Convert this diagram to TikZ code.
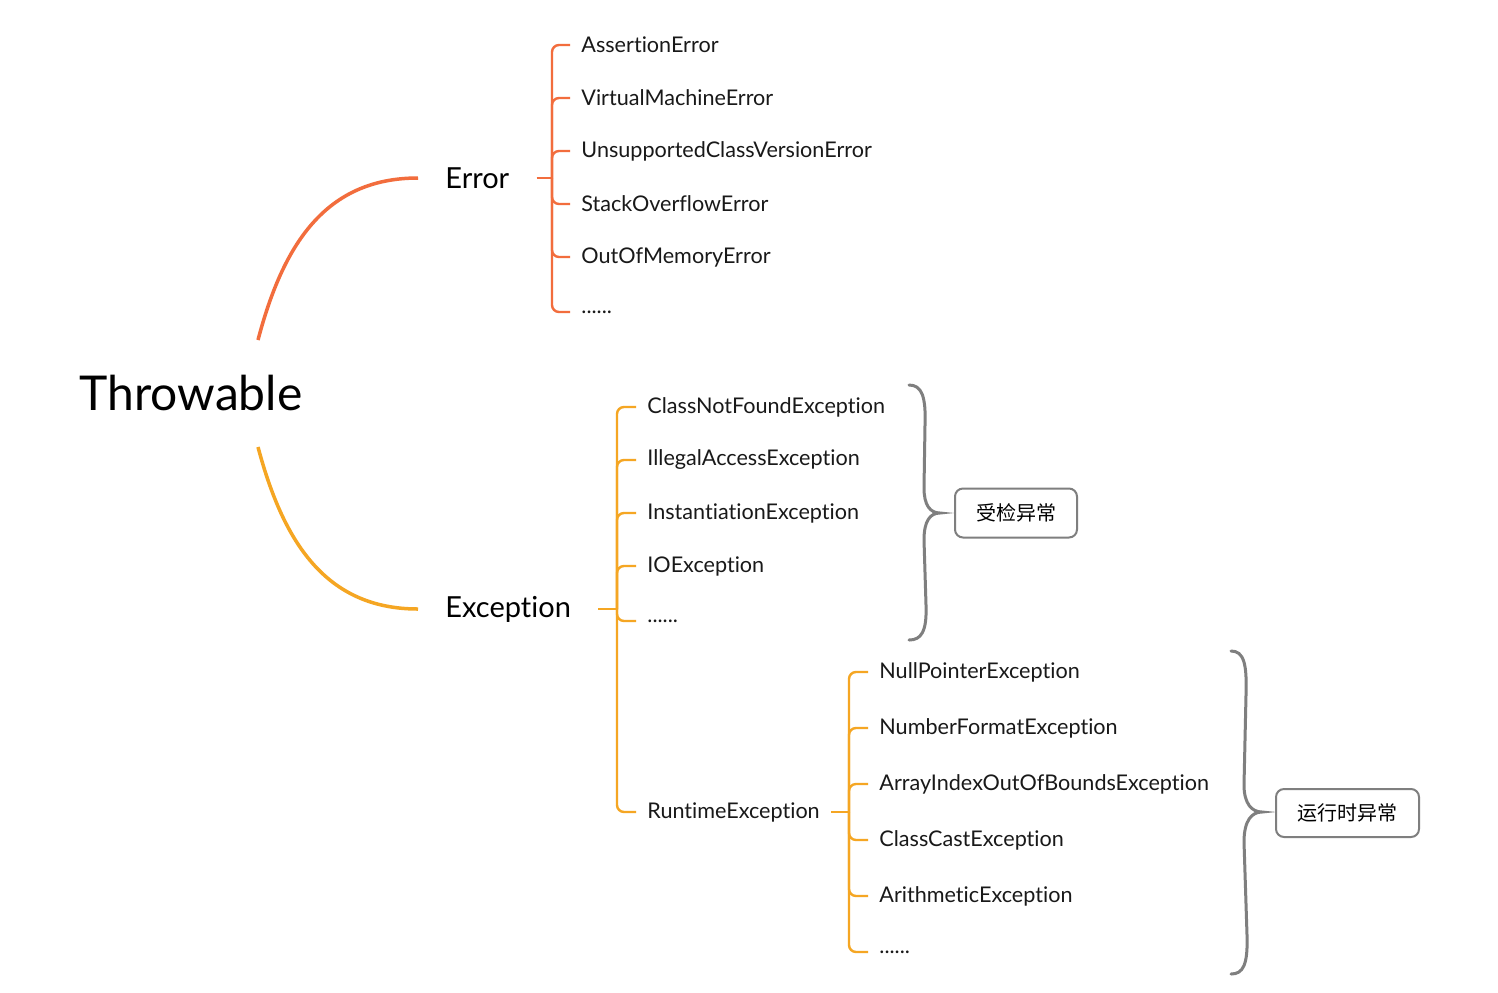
\documentclass[tikz,border=0pt]{standalone}
\usepackage{fontspec}
\setmainfont{Lato}[Ligatures=NoCommon]
\newfontfamily\cjk{Noto Sans CJK SC}
\definecolor{errc}{HTML}{F26D3D}
\definecolor{excc}{HTML}{F5A623}
\definecolor{grayc}{HTML}{7F7F7F}
\tikzset{
  child/.style={anchor=west, inner xsep=5.5pt, inner ysep=2pt, font=\fontsize{10.8}{12}\selectfont, text=black!90},
  parent/.style={anchor=west, inner xsep=13.5pt, inner ysep=2pt, font=\fontsize{14.5}{16}\selectfont, text=black},
  errbr/.style={draw=errc, line width=1.2pt, rounded corners=3.5pt},
  excbr/.style={draw=excc, line width=1.2pt, rounded corners=3.5pt},
  catbox/.style={draw=grayc, line width=1pt, rounded corners=4pt, inner sep=0pt, font=\cjk\fontsize{10}{12}\selectfont},
  bracestyle/.style={draw=grayc, line width=1.5pt, line cap=round}
}
\begin{document}
\begin{tikzpicture}[x=0.5pt,y=-0.5pt]
\path[use as bounding box, fill=white] (0,0) rectangle (1498,992);

% root
\node[font=\fontsize{24}{28}\selectfont, inner sep=0pt] (thr) at (191,393) {Throwable};
\coordinate (t1) at (258,340);
\coordinate (t2) at (258,447);

% level 1
\node[parent] (err) at (418,178) {Error};
\node[parent] (exc) at (418,609) {Exception};

\draw[errc, line width=1.75pt] (t1) .. controls (283,245) and (325,178) .. (err.west);
\draw[excc, line width=1.75pt] (t2) .. controls (283,541) and (325,609) .. (exc.west);

% Error children
\coordinate (ej) at (552,178);
\node[child] (e1) at (570,45) {AssertionError};
\node[child] (e2) at (570,98) {VirtualMachineError};
\node[child] (e3) at (570,151) {UnsupportedClassVersionError};
\node[child] (e4) at (570,204) {StackOverflowError};
\node[child] (e5) at (570,257) {OutOfMemoryError};
\node[child] (e6) at (570,312) {......};
\draw[errc, line width=1.2pt] (err.east) -- (ej);
\foreach \n in {e1,e2,e3,e4,e5,e6} \draw[errbr] (ej) |- (\n.west);

% Exception children
\coordinate (xj) at (617,609);
\node[child] (x1) at (636,407) {ClassNotFoundException};
\node[child] (x2) at (636,460) {IllegalAccessException};
\node[child] (x3) at (636,513) {InstantiationException};
\node[child] (x4) at (636,566) {IOException};
\node[child] (x5) at (636,621) {......};
\node[child] (rt) at (636,812) {RuntimeException};
\draw[excc, line width=1.2pt] (exc.east) -- (xj);
\foreach \n in {x1,x2,x3,x4,x5,rt} \draw[excbr] (xj) |- (\n.west);

% Runtime children
\coordinate (rj) at (849,812);
\node[child] (r1) at (868,672) {NullPointerException};
\node[child] (r2) at (868,728) {NumberFormatException};
\node[child] (r3) at (868,784) {ArrayIndexOutOfBoundsException};
\node[child] (r4) at (868,840) {ClassCastException};
\node[child] (r5) at (868,896) {ArithmeticException};
\node[child] (r6) at (868,952) {......};
\draw[excc, line width=1.2pt] (rt.east) -- (rj);
\foreach \n in {r1,r2,r3,r4,r5,r6} \draw[excbr] (rj) |- (\n.west);

% braces
\draw[bracestyle] (909,385) .. controls (922,385) and (926,397) .. (925,425)
  -- (924,488) .. controls (924,505) and (930,513) .. (940,513)
  .. controls (930,513) and (924,521) .. (924,540)
  -- (926,605) .. controls (927,632) and (921,640) .. (909,640);
\draw[bracestyle] (1231,651) .. controls (1244,651) and (1247,664) .. (1246,695)
  -- (1244,785) .. controls (1244,804) and (1252,812) .. (1262,812)
  .. controls (1252,812) and (1244,820) .. (1244,842)
  -- (1247,935) .. controls (1248,965) and (1243,974) .. (1231,974);

% category boxes
\node[catbox, minimum width=61pt, minimum height=24.5pt] (chk) at (1016,513) {受检异常};
\node[catbox, minimum width=71.5pt, minimum height=24pt] (run) at (1347.5,813) {运行时异常};
\end{tikzpicture}
\end{document}
